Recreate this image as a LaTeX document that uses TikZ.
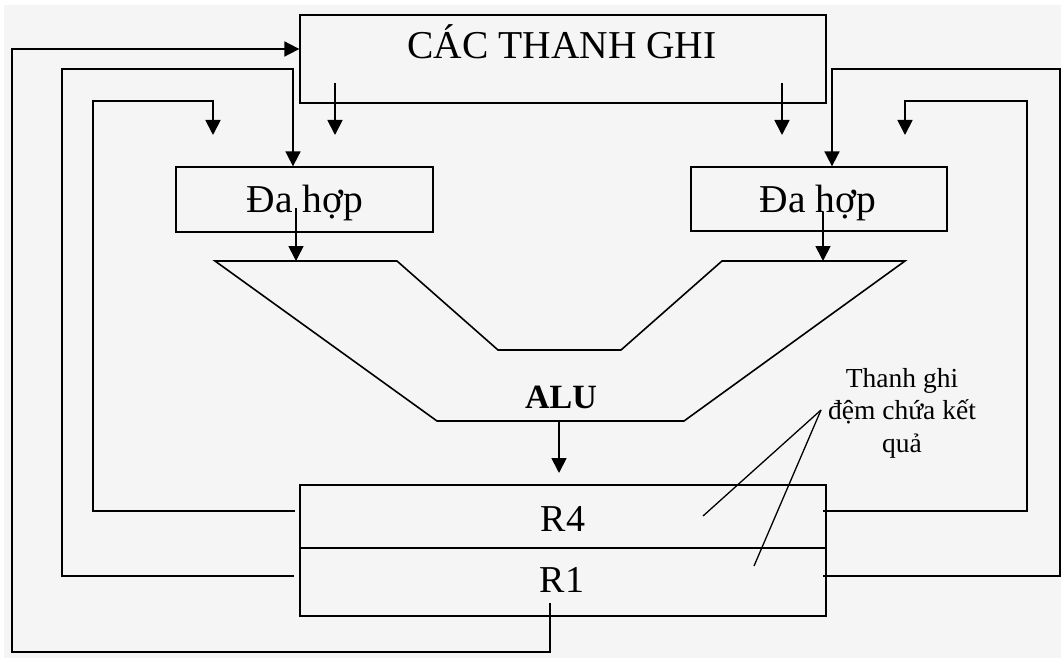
\documentclass[tikz,border=0pt]{standalone}
\usepackage{fontspec}
\setmainfont{Liberation Serif}
\usetikzlibrary{arrows.meta}
\definecolor{bgc}{HTML}{F5F5F5}
\begin{document}
\begin{tikzpicture}[x=1pt,y=-1pt,
  box/.style={draw=black,line width=1.3pt,inner sep=0pt},
  conn/.style={line width=1.8pt,draw=black,line join=miter},
  arr/.style={conn,-{Triangle[width=15pt,length=15pt]}},
  ptrline/.style={line width=1.3pt,draw=black},
  lbl/.style={font=\fontsize{38}{44}\selectfont,inner sep=0pt,anchor=base},
  biglbl/.style={font=\fontsize{39.5}{46}\selectfont,inner sep=0pt,anchor=base},
]
\useasboundingbox (0,0) rectangle (1061,658);
\fill[white] (0,0) rectangle (1061,658);
\fill[bgc] (4,5) rectangle (1061,658);

% register file
\node[box,minimum width=526pt,minimum height=88pt] (regs) at (563,59) {};
\node[biglbl] (regstxt) at (562,59) {CÁC THANH GHI};

% multiplexers
\node[box,minimum width=257pt,minimum height=65pt] (muxL) at (304.5,199.5) {};
\node[biglbl] (muxLtxt) at (305,212) {Đa hợp};
\node[box,minimum width=256pt,minimum height=64pt] (muxR) at (819,199) {};
\node[biglbl] (muxRtxt) at (818,213) {Đa hợp};

% ALU
\coordinate (aluA) at (215,261);
\coordinate (aluB) at (397,261);
\coordinate (aluC) at (498,350);
\coordinate (aluD) at (621,350);
\coordinate (aluE) at (722,261);
\coordinate (aluF) at (905,261);
\coordinate (aluG) at (684,421);
\coordinate (aluH) at (437,421);
\draw[line width=1.6pt,line join=miter] (aluA) -- (aluB) -- (aluC) -- (aluD) -- (aluE) -- (aluF) -- (aluG) -- (aluH) -- cycle;
\node[font=\bfseries\fontsize{34}{40}\selectfont,inner sep=0pt,anchor=base] (alutxt) at (561,408) {ALU};

% result registers
\node[box,minimum width=526pt,minimum height=63pt] (r4) at (563,516.5) {};
\node[box,minimum width=526pt,minimum height=68pt] (r1) at (563,582) {};
\node[lbl] (r4txt) at (563,531) {R4};
\node[lbl] (r1txt) at (562,592) {R1};

% annotation
\node[font=\fontsize{27.5}{32.5}\selectfont,align=center,inner sep=0pt,anchor=north] (note) at (902,368) {Thanh ghi\\đệm chứa kết\\quả};
\coordinate (ptr) at (821,410);
\coordinate (ptrA) at (703,516);
\coordinate (ptrB) at (754,566);
\draw[ptrline] (ptr) -- (ptrA);
\draw[ptrline] (ptr) -- (ptrB);

% arrows from register file
\coordinate (regsL) at (335,83);
\coordinate (regsLend) at (335,135);
\coordinate (regsR) at (782,83);
\coordinate (regsRend) at (782,135);
\draw[arr] (regsL) -- (regsLend);
\draw[arr] (regsR) -- (regsRend);

% mux to ALU
\coordinate (muxLout) at (296,208);
\coordinate (muxRout) at (823,212);
\draw[arr] (muxLout) -- (muxLout |- aluA);
\draw[arr] (muxRout) -- (muxRout |- aluF);

% ALU to R4
\coordinate (aluOut) at (559,421);
\coordinate (r4in) at (559,473);
\draw[arr] (aluOut) -- (r4in);

% feedback loops, left side
\coordinate (r1src) at (550,603);
\draw[arr] (r1src) -- (550,652) -- (12,652) -- (12,49) -- (regs.west |- 0,49);
\coordinate (r1left) at (294,576);
\draw[arr] (r1left) -- (62,576) -- (62,69) -- (293,69) -- (muxL.north -| 293,0);
\coordinate (r4left) at (295,511);
\coordinate (fbLend) at (213,135);
\draw[arr] (r4left) -- (93,511) -- (93,101) -- (213,101) -- (fbLend);

% feedback loops, right side
\coordinate (r1right) at (823,576);
\draw[arr] (r1right) -- (1060,576) -- (1060,69) -- (832,69) -- (muxR.north -| 832,0);
\coordinate (r4right) at (823,511);
\coordinate (fbRend) at (905,135);
\draw[arr] (r4right) -- (1027,511) -- (1027,101) -- (905,101) -- (fbRend);
\end{tikzpicture}
\end{document}
